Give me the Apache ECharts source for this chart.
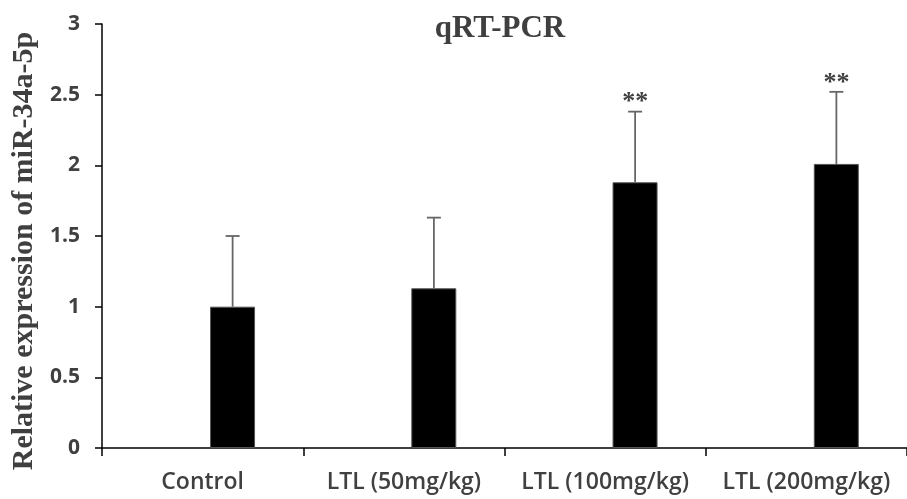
<!DOCTYPE html>
<html>
<head>
<meta charset="utf-8">
<script src="https://cdn.jsdelivr.net/npm/echarts@6/dist/echarts.min.js"></script>
<style>
  html, body { margin: 0; padding: 0; background: #fff; }
  #main { width: 907px; height: 499px; }
</style>
</head>
<body>
<div id="main"></div>
<script>
// data
var groups = ['Control', 'LTL (50mg/kg)', 'LTL (100mg/kg)', 'LTL (200mg/kg)'];
var means = [1.0, 1.13, 1.88, 2.01];
var errors = [0.5, 0.5, 0.5, 0.51];
var marks = ['', '', '**', '**'];

var barOffset = 30; // bars sit right of the category centre, as in the original

var myChart = echarts.init(document.getElementById('main'));

var errData = means.map(function (m, i) { return [i, m, errors[i], marks[i]]; });

var option = {
  backgroundColor: '#fff',
  animation: false,
  title: {
    text: 'qRT-PCR',
    left: 495,
    textAlign: 'center',
    top: 8,
    textStyle: {
      fontFamily: 'Liberation Serif',
      fontWeight: 'bold',
      fontSize: 31,
      color: '#3f3f3f'
    }
  },
  grid: {
    left: 102,
    right: -12,
    top: 24,
    bottom: 51
  },
  xAxis: {
    type: 'category',
    data: groups,
    axisLine: { lineStyle: { color: '#000', width: 1.5 } },
    axisTick: { show: true, length: 8, lineStyle: { color: '#000', width: 1.5 } },
    axisLabel: {
      interval: 0,
      margin: 23,
      fontFamily: 'Open Sans',
      fontWeight: 600,
      fontSize: 23,
      color: '#404040'
    }
  },
  yAxis: {
    type: 'value',
    min: 0,
    max: 3,
    interval: 0.5,
    name: 'Relative expression of miR-34a-5p',
    nameLocation: 'middle',
    nameGap: 58,
    nameTextStyle: {
      fontFamily: 'Liberation Serif',
      fontWeight: 'bold',
      fontSize: 30,
      color: '#3f3f3f',
      padding: [0, 30, 0, 0]
    },
    axisLine: { show: true, lineStyle: { color: '#000', width: 1.5 } },
    axisTick: { show: true, length: 7, lineStyle: { color: '#000', width: 1.5 } },
    splitLine: { show: false },
    axisLabel: {
      margin: 22,
      fontFamily: 'Open Sans',
      fontWeight: 'bold',
      fontSize: 21,
      color: '#404040'
    }
  },
  series: [
    {
      // empty slot that pushes the real bars right of centre
      name: 'pad',
      type: 'bar',
      barWidth: 45,
      barGap: '33%',
      data: groups.map(function () { return null; })
    },
    {
      name: 'qRT-PCR',
      type: 'bar',
      barWidth: 45,
      barGap: '33%',
      itemStyle: { color: '#000', borderColor: '#555', borderWidth: 1 },
      data: means
    },
    {
      name: 'error',
      type: 'custom',
      z: 5,
      data: errData,
      renderItem: function (params, api) {
        var i = api.value(0);
        var base = api.coord([i, api.value(1)]);
        var top = api.coord([i, api.value(1) + api.value(2)]);
        var x = base[0] + barOffset;
        var cap = 7;
        var style = { stroke: '#666', lineWidth: 1.8 };
        var children = [
          { type: 'line', shape: { x1: x, y1: base[1], x2: x, y2: top[1] }, style: style },
          { type: 'line', shape: { x1: x - cap, y1: top[1], x2: x + cap, y2: top[1] }, style: style }
        ];
        var star = errData[params.dataIndex][3];
        if (star) {
          children.push({
            type: 'text',
            style: {
              text: star,
              x: x,
              y: top[1] - 9,
              align: 'center',
              verticalAlign: 'middle',
              fontFamily: 'Liberation Serif',
              fontWeight: 'bold',
              fontSize: 26,
              fill: '#3f3f3f'
            }
          });
        }
        return { type: 'group', children: children };
      }
    }
  ]
};

myChart.setOption(option);
</script>
</body>
</html>
